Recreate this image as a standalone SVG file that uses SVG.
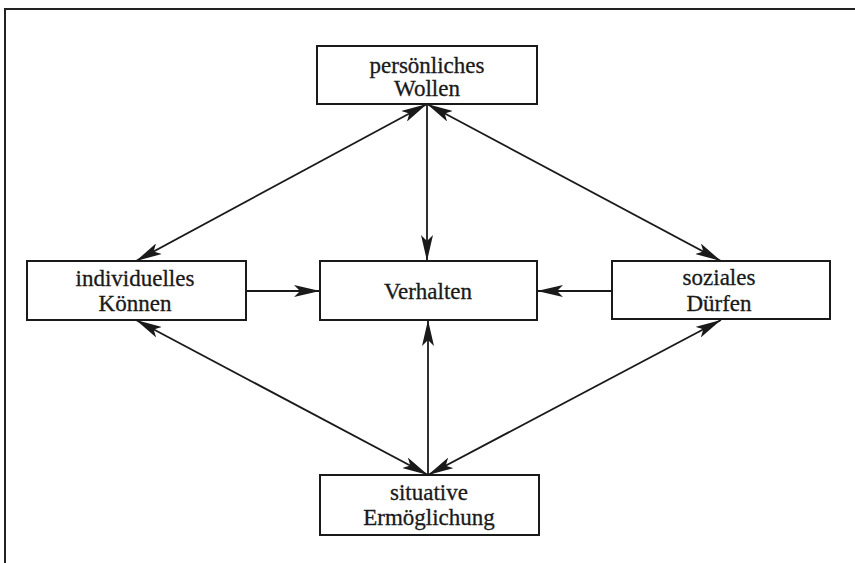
<svg xmlns="http://www.w3.org/2000/svg" width="855" height="563" viewBox="0 0 855 563">
<defs>
<style>
.box{fill:#fff;stroke:#1a1a1a;stroke-width:2}
.t{font-family:"Liberation Serif","Times New Roman",serif;font-size:23px;fill:#1a1a1a;stroke:#1a1a1a;stroke-width:0.3;text-anchor:middle}
.c{stroke:#1a1a1a;stroke-width:1.8;fill:none}
</style>
<marker id="ah" viewBox="0 0 26 12" refX="26" refY="6" markerWidth="26" markerHeight="12" markerUnits="userSpaceOnUse" orient="auto-start-reverse">
<path d="M0,0 L26,6 L0,12 L6,6 Z" fill="#1a1a1a"/>
</marker>
</defs>
<rect width="855" height="563" fill="#fff"/>
<path d="M5,563 V9 H855" fill="none" stroke="#222" stroke-width="2"/>
<g id="connectors">
<line class="c" x1="427" y1="104" x2="427" y2="261" marker-end="url(#ah)"/>
<line class="c" x1="427" y1="104" x2="136" y2="261" marker-start="url(#ah)" marker-end="url(#ah)"/>
<line class="c" x1="427" y1="104" x2="721" y2="261" marker-start="url(#ah)" marker-end="url(#ah)"/>
<line class="c" x1="136" y1="320" x2="428" y2="475" marker-start="url(#ah)" marker-end="url(#ah)"/>
<line class="c" x1="721" y1="320" x2="428" y2="475" marker-start="url(#ah)" marker-end="url(#ah)"/>
<line class="c" x1="428" y1="475" x2="428" y2="320" marker-end="url(#ah)"/>
<line class="c" x1="246" y1="291" x2="320" y2="291" marker-end="url(#ah)"/>
<line class="c" x1="612" y1="291" x2="537" y2="291" marker-end="url(#ah)"/>
</g>
<g id="wollen">
<rect class="box" x="317" y="46" width="220" height="58"/>
<text class="t" x="427" y="73">persönliches</text>
<text class="t" x="427" y="96">Wollen</text>
</g>
<g id="koennen">
<rect class="box" x="27" y="261" width="219" height="59"/>
<text class="t" x="135" y="286">individuelles</text>
<text class="t" x="135" y="311">Können</text>
</g>
<g id="verhalten">
<rect class="box" x="320" y="261" width="217" height="59"/>
<text class="t" x="428" y="299">Verhalten</text>
</g>
<g id="duerfen">
<rect class="box" x="612" y="261" width="218" height="58"/>
<text class="t" x="719" y="285">soziales</text>
<text class="t" x="719" y="311">Dürfen</text>
</g>
<g id="ermoeglichung">
<rect class="box" x="320" y="475" width="219" height="60"/>
<text class="t" x="429" y="500">situative</text>
<text class="t" x="429" y="525">Ermöglichung</text>
</g>
</svg>
